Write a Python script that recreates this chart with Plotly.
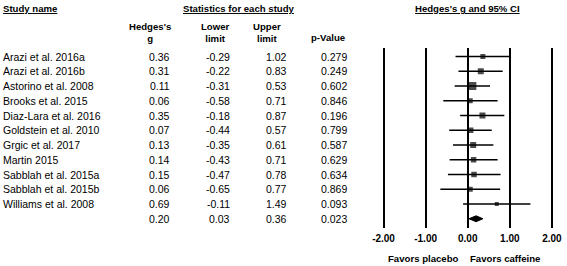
import plotly.graph_objects as go

W, H = 567, 266

studies = ["Arazi et al. 2016a", "Arazi et al. 2016b", "Astorino et al. 2008",
           "Brooks et al. 2015", "Diaz-Lara et al. 2016", "Goldstein et al. 2010",
           "Grgic et al. 2017", "Martin 2015", "Sabblah et al. 2015a",
           "Sabblah et al. 2015b", "Williams et al. 2008"]
hedges_g = [0.36, 0.31, 0.11, 0.06, 0.35, 0.07, 0.13, 0.14, 0.15, 0.06, 0.69]
lower = [-0.29, -0.22, -0.31, -0.58, -0.18, -0.44, -0.35, -0.43, -0.47, -0.65, -0.11]
upper = [1.02, 0.83, 0.53, 0.71, 0.87, 0.57, 0.61, 0.71, 0.78, 0.77, 1.49]
p_values = [0.279, 0.249, 0.602, 0.846, 0.196, 0.799, 0.587, 0.629, 0.634, 0.869, 0.093]

summary_g = 0.20
summary_lower = 0.03
summary_upper = 0.36
summary_p = 0.023

tick_vals = [-2, -1, 0, 1, 2]
tick_labels = ["-2.00", "-1.00", "0.00", "1.00", "2.00"]

# style (marker side length in px, reflecting study weight)
marker_px = [5, 6, 8, 5, 6, 5.5, 6, 5.5, 5.5, 5, 4]

FONT = "Liberation Sans, Arial, sans-serif"
REG = 10.5
BOLD = 9.6

def px_x(x):
    return x / W

def px_y(y):
    return (H - y) / H

rows = list(range(len(studies)))
sum_row = len(studies)

fig = go.Figure()

# study CIs and point estimates
fig.add_trace(go.Scatter(
    x=hedges_g, y=rows, mode="markers",
    marker=dict(symbol="square", size=marker_px, color="black", line=dict(width=0)),
    error_x=dict(type="data", symmetric=False,
                 array=[u - g for u, g in zip(upper, hedges_g)],
                 arrayminus=[g - l for g, l in zip(hedges_g, lower)],
                 width=0, thickness=1.3, color="black"),
    showlegend=False, hoverinfo="skip"))

# summary diamond
h = 0.2
fig.add_trace(go.Scatter(
    x=[summary_lower, summary_g, summary_upper, summary_g, summary_lower],
    y=[sum_row, sum_row - h, sum_row, sum_row + h, sum_row],
    mode="lines", fill="toself", fillcolor="black",
    line=dict(color="black", width=1), showlegend=False, hoverinfo="skip"))

ann = []
def add(text, x, y, xanchor="center", size=REG, yref="paper", xref="paper"):
    ann.append(dict(text=text, x=x, y=y, xref=xref, yref=yref, xanchor=xanchor,
                    yanchor="middle", showarrow=False,
                    font=dict(family=FONT, size=size, color="black")))

NAME_X = -5

# headers
add("<b><u>Study name</u></b>", px_x(NAME_X), px_y(8), xanchor="left", size=BOLD)
add("<b><u>Statistics for each study</u></b>", px_x(238), px_y(8), size=BOLD)
add("<b><u>Hedges's g and 95% CI</u></b>", 0, px_y(8), xref="x", size=BOLD)
add("<b>Hedges's<br>g</b>", px_x(147), px_y(32.5), size=BOLD)
add("<b>Lower<br>limit</b>", px_x(214), px_y(32.5), size=BOLD)
add("<b>Upper<br>limit</b>", px_x(266), px_y(32.5), size=BOLD)
add("<b>p-Value</b>", px_x(328), px_y(37.5), size=BOLD)

# table rows
for i, name in enumerate(studies):
    add(name, px_x(NAME_X), i, xanchor="left", yref="y")
    add(f"{hedges_g[i]:.2f}", px_x(169), i, xanchor="right", yref="y")
    add(f"{lower[i]:.2f}", px_x(230), i, xanchor="right", yref="y")
    add(f"{upper[i]:.2f}", px_x(289), i, xanchor="right", yref="y")
    add(f"{p_values[i]:.3f}", px_x(350), i, xanchor="right", yref="y")

add(f"{summary_g:.2f}", px_x(169), sum_row, xanchor="right", yref="y")
add(f"{summary_lower:.2f}", px_x(230), sum_row, xanchor="right", yref="y")
add(f"{summary_upper:.2f}", px_x(289), sum_row, xanchor="right", yref="y")
add(f"{summary_p:.3f}", px_x(350), sum_row, xanchor="right", yref="y")

add("<b>Favors placebo</b>", px_x(464), px_y(258), xanchor="right", size=BOLD)
add("<b>Favors caffeine</b>", px_x(471), px_y(258), xanchor="left", size=BOLD)

# axis geometry: -2 -> 385px, 2 -> 556.7px
ppu = (556.7 - 385) / 4
xr = [-2.12, 2.12]
d0 = (385 + (xr[0] + 2) * ppu) / W
d1 = (556.7 + (xr[1] - 2) * ppu) / W

top_px, bot_px = 48, 228
row0_px, row_step = 56.5, 14.75
y_top = (top_px - row0_px) / row_step
y_bot = (bot_px - row0_px) / row_step

fig.update_layout(
    width=W, height=H, margin=dict(l=0, r=0, t=0, b=0),
    paper_bgcolor="white", plot_bgcolor="white",
    annotations=ann,
    xaxis=dict(domain=[d0, d1], range=xr, tickvals=tick_vals, ticktext=tick_labels,
               showgrid=True, gridcolor="black", gridwidth=1.8,
               zeroline=True, zerolinecolor="black", zerolinewidth=1.8,
               showline=False, ticks="", ticklabelstandoff=3,
               tickfont=dict(family=FONT, size=10, color="black", weight="bold"),
               fixedrange=True),
    yaxis=dict(domain=[px_y(bot_px), px_y(top_px)], range=[y_bot, y_top],
               showgrid=False, zeroline=False, showticklabels=False, ticks="",
               showline=False, fixedrange=True),
)

fig.write_html("out.html", include_plotlyjs=True, config={"displayModeBar": False},
               post_script="document.body.style.margin='0';document.body.style.padding='0';")
